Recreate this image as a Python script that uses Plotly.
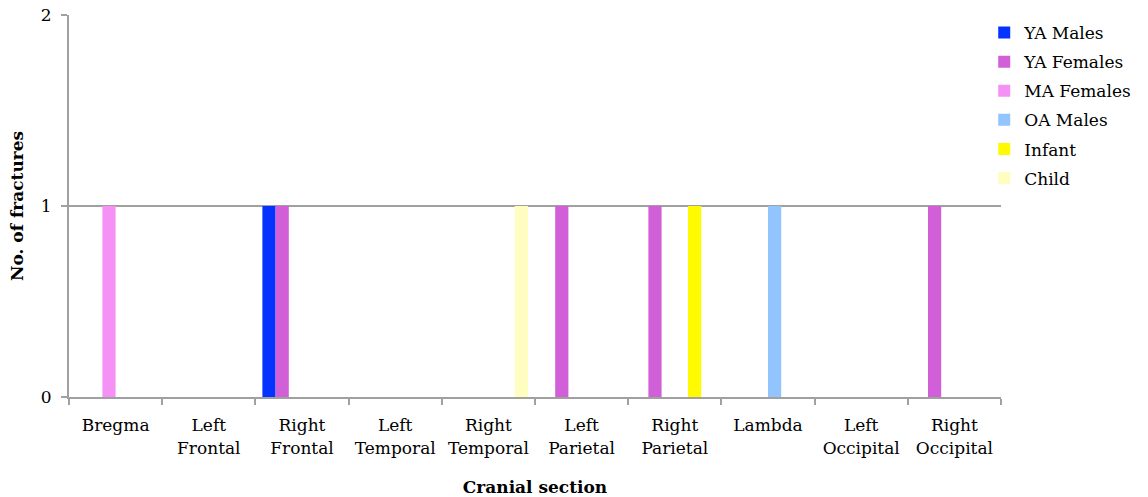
import plotly.graph_objects as go

categories = ["Bregma", "Left<br>Frontal", "Right<br>Frontal", "Left<br>Temporal", "Right<br>Temporal",
              "Left<br>Parietal", "Right<br>Parietal", "Lambda", "Left<br>Occipital", "Right<br>Occipital"]

series_names = ["YA Males", "YA Females", "MA Females", "OA Males", "Infant", "Child"]
ya_males   = [0, 0, 1, 0, 0, 0, 0, 0, 0, 0]
ya_females = [0, 0, 1, 0, 0, 1, 1, 0, 0, 1]
ma_females = [1, 0, 0, 0, 0, 0, 0, 0, 0, 0]
oa_males   = [0, 0, 0, 0, 0, 0, 0, 1, 0, 0]
infant     = [0, 0, 0, 0, 0, 0, 1, 0, 0, 0]
child      = [0, 0, 0, 0, 1, 0, 0, 0, 0, 0]
colors = ["#0433FF", "#D05FD8", "#F591F5", "#92C4FD", "#FFFA00", "#FFFDC0"]

values = [ya_males, ya_females, ma_females, oa_males, infant, child]

FONT = "DejaVu Serif"
fig = go.Figure()
for name, vals, col in zip(series_names, values, colors):
    fig.add_trace(go.Bar(x=categories, y=vals, name=name, legendgroup=name,
                         marker=dict(color=col, line=dict(width=0))))

fig.update_layout(
    width=1148, height=497,
    margin=dict(l=69, r=145, t=15, b=100),
    barmode="group", bargap=0.15, bargroupgap=0,
    plot_bgcolor="white", paper_bgcolor="white",
    font=dict(family=FONT, size=17, color="black"),
    legend=dict(x=0.982, xanchor="left", y=1.0, yanchor="top", font=dict(size=17),
                bgcolor="rgba(0,0,0,0)", tracegroupgap=4),
    xaxis=dict(
        title=dict(text="<b>Cranial section</b>", font=dict(size=17), standoff=30),
        showline=True, linecolor="#A0A0A0", linewidth=2, automargin=False,
        ticks="outside", tickson="boundaries", ticklen=6, tickcolor="#A0A0A0", tickwidth=2,
        tickfont=dict(size=17), showgrid=False, ticklabelstandoff=12,
    ),
    yaxis=dict(
        title=dict(text="<b>No. of fractures</b>", font=dict(size=17), standoff=13),
        range=[0, 2], dtick=1, showline=True, linecolor="#A0A0A0", linewidth=2, automargin=False,
        ticks="outside", ticklen=6, tickcolor="#A0A0A0", tickwidth=2,
        showgrid=True, gridcolor="#A0A0A0", gridwidth=2, zeroline=False,
        tickfont=dict(size=17), ticklabelstandoff=6,
    ),
)

fig.write_html("out.html", config={"displayModeBar": False},
               post_script="document.body.style.margin='0';")
